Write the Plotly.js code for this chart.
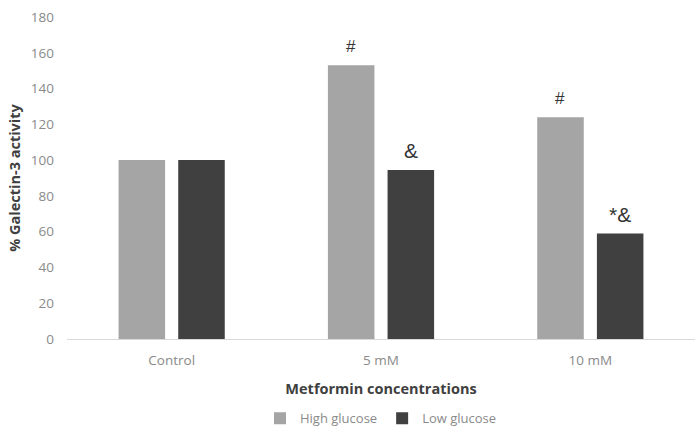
<!DOCTYPE html>
<html>
<head>
<meta charset="utf-8">
<script src="https://cdn.plot.ly/plotly-3.0.1.min.js"></script>
<style>html,body{margin:0;padding:0;background:#fff;}#chart{width:699px;height:435px;}</style>
</head>
<body>
<div id="chart"></div>
<script>
const categories = ["Control", "5 mM", "10 mM"];
const highGlucose = [100, 153, 124];
const lowGlucose = [100, 94.5, 59];
const highMarks = ["", "#", "#"];
const lowMarks = ["", "&", "*&"];
const yTicks = [0, 20, 40, 60, 80, 100, 120, 140, 160, 180];

const traces = [
  {type: "bar", name: "High glucose", x: categories, y: highGlucose,
   marker: {color: "#a5a5a5"}},
  {type: "bar", name: "Low glucose", x: categories, y: lowGlucose,
   marker: {color: "#404040"}}
];

const annotations = [];
categories.forEach((c, i) => {
  if (highMarks[i]) annotations.push({x: c, y: highGlucose[i], xref: "x", yref: "y",
    text: highMarks[i], showarrow: false, xshift: -30, yshift: 19, yanchor: "middle",
    font: {family: "Liberation Sans, Arial", size: 17, color: "#333"}});
  if (lowMarks[i]) annotations.push({x: c, y: lowGlucose[i], xref: "x", yref: "y",
    text: lowMarks[i], showarrow: false, xshift: 30, yshift: 19, yanchor: "middle",
    font: {family: "Liberation Sans, Arial", size: 21, color: "#333"}});
});

const layout = {
  width: 699, height: 435,
  margin: {l: 67, r: 4, t: 17, b: 96, autoexpand: false},
  paper_bgcolor: "#fff", plot_bgcolor: "#fff",
  barmode: "group", bargap: 0.43, bargroupgap: 0.22,
  font: {family: "Open Sans, Liberation Sans, Arial", color: "#8a8a8a", size: 13},
  annotations: annotations,
  xaxis: {
    type: "category", range: [-0.5, 2.5], automargin: false,
    showline: true, linecolor: "#d9d9d9", linewidth: 1,
    ticks: "", showgrid: false, zeroline: false,
    ticklabelstandoff: 9,
    tickfont: {size: 13.5, color: "#8a8a8a"},
    title: {text: "Metformin concentrations", standoff: 15,
            font: {size: 14.5, color: "#404040", family: "Open Sans, Arial", weight: "bold"}}
  },
  yaxis: {
    range: [0, 180], tickvals: yTicks, ticktext: yTicks.map(String), automargin: false,
    showgrid: false, zeroline: false, showline: false, ticks: "",
    ticklabelstandoff: 12,
    tickfont: {size: 13.5, color: "#8a8a8a"},
    title: {text: "% Galectin-3 activity", standoff: 6,
            font: {size: 14.5, color: "#404040", family: "Open Sans, Arial", weight: "bold"}}
  },
  showlegend: true,
  legend: {orientation: "h", x: 0.5, xanchor: "center", y: -0.2, yanchor: "top",
           font: {size: 13, color: "#8a8a8a"}, itemwidth: 30, tracegroupgap: 0}
};

Plotly.newPlot("chart", traces, layout, {displayModeBar: false, staticPlot: true});
</script>
</body>
</html>
